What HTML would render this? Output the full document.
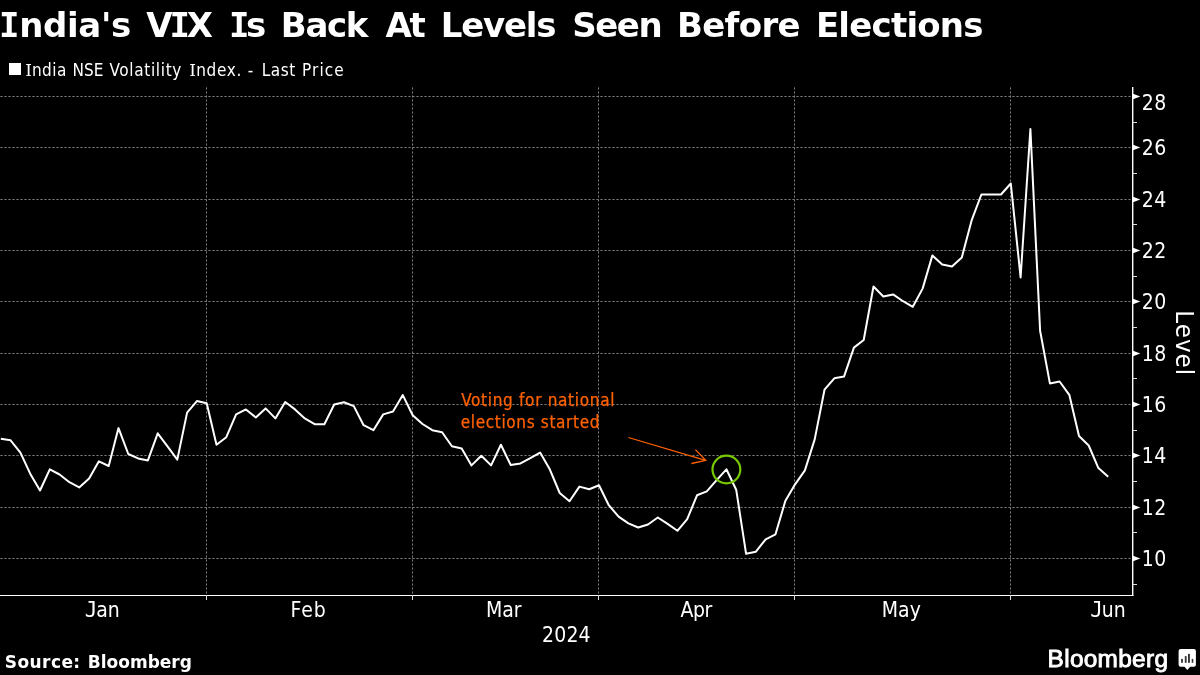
<!DOCTYPE html>
<html><head><meta charset="utf-8"><title>India's VIX Is Back At Levels Seen Before Elections</title>
<style>
html,body{margin:0;padding:0;background:#000;}
body{width:1200px;height:675px;overflow:hidden;position:relative;font-family:"DejaVu Sans","Liberation Sans",sans-serif;color:#fff;}
.t{position:absolute;white-space:pre;line-height:30px;}
.ti{font-size:34px;font-weight:bold;line-height:40px;}
.mi{font-family:"DejaVu Sans Mono","DejaVu Sans",monospace;}
.mj{font-family:"DejaVu Sans Mono","DejaVu Sans",monospace;margin-right:-1.3px;}
.si{font-family:"DejaVu Serif","DejaVu Sans",serif;margin-right:-0.4px;}
.ax{font-family:"DejaVu Sans Condensed","DejaVu Sans",sans-serif;font-size:21px;}
.lg{font-family:"DejaVu Sans Condensed","DejaVu Sans",sans-serif;font-size:17px;}
.an{font-family:"DejaVu Sans Condensed","DejaVu Sans",sans-serif;font-size:17px;color:#ff6200;-webkit-text-stroke:0.25px #ff6200;}
.so{font-size:17px;font-weight:bold;}
.lo{font-family:"Liberation Sans",sans-serif;font-weight:normal;font-size:24.4px;-webkit-text-stroke:0.9px #fff;}
#sq{position:absolute;left:9px;top:63px;width:12px;height:12px;background:#fff;}
svg{position:absolute;left:0;top:0;}
svg text{font-family:"DejaVu Sans Condensed","DejaVu Sans",sans-serif;}
</style></head><body>
<svg width="1200" height="675" viewBox="0 0 1200 675">
<g stroke="#7c7c7c" stroke-width="1" stroke-dasharray="2.2 1.8" stroke-dashoffset="-0.4"><line x1="0" x2="1132" y1="96.5" y2="96.5"/><line x1="0" x2="1132" y1="147.5" y2="147.5"/><line x1="0" x2="1132" y1="199.5" y2="199.5"/><line x1="0" x2="1132" y1="250.5" y2="250.5"/><line x1="0" x2="1132" y1="301.5" y2="301.5"/><line x1="0" x2="1132" y1="353.5" y2="353.5"/><line x1="0" x2="1132" y1="404.5" y2="404.5"/><line x1="0" x2="1132" y1="455.5" y2="455.5"/><line x1="0" x2="1132" y1="507.5" y2="507.5"/><line x1="0" x2="1132" y1="558.5" y2="558.5"/><line x1="206.5" x2="206.5" y1="87" y2="594"/><line x1="412.5" x2="412.5" y1="87" y2="594"/><line x1="598.5" x2="598.5" y1="87" y2="594"/><line x1="794.5" x2="794.5" y1="87" y2="594"/><line x1="1010.5" x2="1010.5" y1="87" y2="594"/></g>
<g fill="#fff"><rect x="0" y="595" width="1133.4" height="1"/><rect x="1132" y="87" width="1.4" height="509"/></g>
<g stroke="#ddd" stroke-width="1" shape-rendering="crispEdges"><line x1="1133" x2="1137" y1="122.5" y2="122.5"/><line x1="1133" x2="1137" y1="173.5" y2="173.5"/><line x1="1133" x2="1137" y1="224.5" y2="224.5"/><line x1="1133" x2="1137" y1="276.5" y2="276.5"/><line x1="1133" x2="1137" y1="327.5" y2="327.5"/><line x1="1133" x2="1137" y1="378.5" y2="378.5"/><line x1="1133" x2="1137" y1="430.5" y2="430.5"/><line x1="1133" x2="1137" y1="481.5" y2="481.5"/><line x1="1133" x2="1137" y1="532.5" y2="532.5"/><line x1="1133" x2="1137" y1="584.5" y2="584.5"/><line x1="206.5" x2="206.5" y1="595" y2="600"/><line x1="412.5" x2="412.5" y1="595" y2="600"/><line x1="598.5" x2="598.5" y1="595" y2="600"/><line x1="794.5" x2="794.5" y1="595" y2="600"/><line x1="1010.5" x2="1010.5" y1="595" y2="600"/></g>
<g fill="#fff"><path d="M1133 93.7 L1140.3 96.5 L1133 99.3 Z"/><path d="M1133 144.7 L1140.3 147.5 L1133 150.3 Z"/><path d="M1133 196.7 L1140.3 199.5 L1133 202.3 Z"/><path d="M1133 247.7 L1140.3 250.5 L1133 253.3 Z"/><path d="M1133 298.7 L1140.3 301.5 L1133 304.3 Z"/><path d="M1133 350.7 L1140.3 353.5 L1133 356.3 Z"/><path d="M1133 401.7 L1140.3 404.5 L1133 407.3 Z"/><path d="M1133 452.7 L1140.3 455.5 L1133 458.3 Z"/><path d="M1133 504.7 L1140.3 507.5 L1133 510.3 Z"/><path d="M1133 555.7 L1140.3 558.5 L1133 561.3 Z"/></g>
<text transform="translate(1175.8,310.3) rotate(90)" fill="#fff" font-size="25.5" letter-spacing="1.1">Level</text>
<polyline fill="none" stroke="#fff" stroke-width="2" stroke-linejoin="round" stroke-linecap="butt" points="0.8,438.7 10.6,440.3 20.4,452.6 30.2,473.7 40.0,490.5 49.8,469.4 59.6,474.5 69.4,482.2 79.2,487.4 89.1,478.5 98.9,461.3 108.7,466.0 118.5,428.1 128.3,454.0 138.1,458.4 147.9,460.4 157.7,433.3 167.5,446.3 177.3,459.6 187.1,412.6 196.9,401.1 206.7,403.2 216.5,444.7 226.3,437.2 236.1,414.4 245.9,409.4 255.8,417.5 265.6,408.4 275.4,418.4 285.2,402.0 295.0,409.4 304.8,418.4 314.6,424.2 324.4,424.2 334.2,404.5 344.0,402.2 353.8,406.1 363.6,425.2 373.4,430.2 383.2,414.4 393.0,411.5 402.8,395.1 412.7,415.2 422.5,424.0 432.3,430.2 442.1,432.2 451.9,446.3 461.7,448.4 471.5,465.4 481.3,455.7 491.1,465.4 500.9,444.7 510.7,465.0 520.5,463.4 530.3,458.2 540.1,452.6 549.9,469.6 559.7,493.0 569.5,501.3 579.4,486.6 589.2,489.3 599.0,485.3 608.8,505.2 618.6,516.7 628.4,523.3 638.2,527.5 648.0,524.5 657.8,517.5 667.6,523.9 677.4,530.8 687.2,519.2 697.0,495.3 706.8,491.4 716.6,480.2 726.4,469.3 736.2,489.7 746.1,553.8 755.9,551.7 765.7,539.3 775.5,534.3 785.3,501.1 795.1,484.3 804.9,470.4 814.7,439.4 824.5,389.7 834.3,378.3 844.1,376.4 853.9,347.6 863.7,340.0 873.5,286.5 883.3,296.5 893.1,294.4 903.0,301.2 912.8,306.8 922.6,288.6 932.4,255.4 942.2,264.5 952.0,266.6 961.8,257.5 971.6,220.4 981.4,194.5 991.2,194.5 1001.0,194.5 1010.8,183.5 1020.6,277.4 1030.4,129.0 1040.1,330.7 1049.9,383.4 1059.6,381.5 1069.3,394.8 1079.0,436.0 1088.7,445.5 1098.4,468.1 1108.2,476.8"/>
<circle cx="726.4" cy="469.5" r="13.9" fill="none" stroke="#78c800" stroke-width="2.2"/>
<g stroke="#ff6200" stroke-width="1.3" fill="none"><path d="M628.4 437.5 L705.6 460.3 M695.4 449.6 L705.8 460.4 L691.4 463.5"/></g>
<g><path fill="#fff" d="M1180.6 649.1 H1193.9 Q1195.9 649.1 1195.9 651.1 V664.7 Q1195.9 666.7 1193.9 666.7 H1190.2 L1187.36 670 L1184.5 666.7 H1180.6 Q1178.6 666.7 1178.6 664.7 V651.1 Q1178.6 649.1 1180.6 649.1 Z"/><g fill="#333"><rect x="1181.1" y="658.9" width="1.8" height="3.9"/><rect x="1184.8" y="656.1" width="1.8" height="6.7"/><rect x="1188.0" y="653.9" width="1.9" height="8.9"/><rect x="1191.7" y="658.9" width="1.6" height="3.9"/></g></g>
</svg>
<div class="t ti" style="left:-1px;top:5px;letter-spacing:-0.33px;"><span class="mi">I</span>ndia's</div>
<div class="t ti" style="left:146.2px;top:5px;letter-spacing:-3.12px;">V<span class="mi">I</span>X</div>
<div class="t ti" style="left:229px;top:5px;letter-spacing:-3.5px;"><span class="mi">I</span>s</div>
<div class="t ti" style="left:280.8px;top:5px;letter-spacing:-1.33px;">Back</div>
<div class="t ti" style="left:385.4px;top:5px;letter-spacing:-2.2px;">At</div>
<div class="t ti" style="left:440.8px;top:5px;letter-spacing:-1.25px;">Levels</div>
<div class="t ti" style="left:572.2px;top:5px;letter-spacing:-1.47px;">Seen</div>
<div class="t ti" style="left:677px;top:5px;letter-spacing:-0.68px;">Before</div>
<div class="t ti" style="left:815.9px;top:5px;letter-spacing:-0.77px;">Elections</div>
<div id="sq"></div><div class="t lg" style="left:25.2px;top:54.6px;letter-spacing:0.44px;"><span class="si">I</span>ndia</div>
<div class="t lg" style="left:72.5px;top:54.6px;">NSE</div>
<div class="t lg" style="left:109.5px;top:54.6px;letter-spacing:0.66px;">Volatility</div>
<div class="t lg" style="left:189.2px;top:54.6px;letter-spacing:0.7px;"><span class="si">I</span>ndex.</div>
<div class="t lg" style="left:247.8px;top:54.6px;">-</div>
<div class="t lg" style="left:261.7px;top:54.6px;letter-spacing:0.55px;">Last</div>
<div class="t lg" style="left:302px;top:54.6px;letter-spacing:1.12px;">Price</div>
<div class="t ax" style="left:1141.8px;top:88.4px;letter-spacing:0.5px;">28</div><div class="t ax" style="left:1141.8px;top:133.4px;letter-spacing:0.5px;">26</div><div class="t ax" style="left:1141.8px;top:185.4px;letter-spacing:0.5px;">24</div><div class="t ax" style="left:1141.8px;top:236.4px;letter-spacing:0.5px;">22</div><div class="t ax" style="left:1141.8px;top:287.4px;letter-spacing:0.5px;">20</div><div class="t ax" style="left:1141.8px;top:339.4px;letter-spacing:0.5px;">18</div><div class="t ax" style="left:1141.8px;top:390.4px;letter-spacing:0.5px;">16</div><div class="t ax" style="left:1141.8px;top:441.4px;letter-spacing:0.5px;">14</div><div class="t ax" style="left:1141.8px;top:493.4px;letter-spacing:0.5px;">12</div><div class="t ax" style="left:1141.8px;top:544.4px;letter-spacing:0.5px;">10</div><div class="t ax" style="left:84.8px;top:594.6px;"><span class="mj">J</span>an</div><div class="t ax" style="left:290.5px;top:594.6px;letter-spacing:1.0px;">Feb</div><div class="t ax" style="left:486px;top:594.6px;letter-spacing:-0.12px;">Mar</div><div class="t ax" style="left:680.5px;top:594.6px;letter-spacing:-0.5px;">Apr</div><div class="t ax" style="left:881.8px;top:594.6px;">May</div><div class="t ax" style="left:1090.3px;top:594.6px;"><span class="mj">J</span>un</div><div class="t ax" style="left:542px;top:619.8px;letter-spacing:0.17px;">2024</div>
<div class="t an" style="left:461.2px;top:384.9px;letter-spacing:0.69px;">Voting for national</div><div class="t an" style="left:460.7px;top:406.8px;letter-spacing:0.65px;">elections started</div>
<div class="t so" style="left:4.8px;top:646.6px;letter-spacing:0.42px;">Source:</div><div class="t so" style="left:87.8px;top:646.6px;">Bloomberg</div>
<div class="t lo" style="left:1047.6px;top:644.2px;letter-spacing:0.3px;">Bloomberg</div>
</body></html>
